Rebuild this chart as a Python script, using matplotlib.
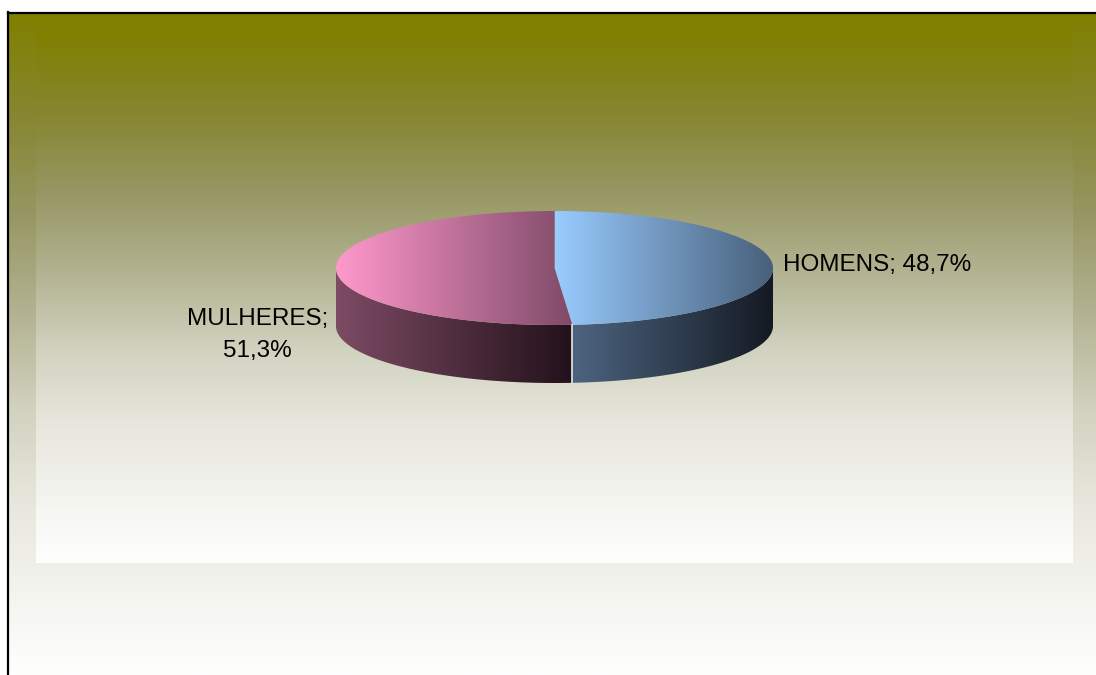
import matplotlib.pyplot as plt
import numpy as np
from matplotlib.colors import LinearSegmentedColormap
from matplotlib.patches import Polygon

labels = ["HOMENS", "MULHERES"]
values = [48.7, 51.3]

W, H = 1096, 675

# olive -> white backdrop, used for the frame and the plot area
bg_stops = [(0.0, (128, 128, 0)), (0.15, (134, 134, 48)), (0.3, (150, 150, 98)),
            (0.45, (178, 178, 145)), (0.6, (210, 210, 192)), (0.75, (232, 232, 223)),
            (0.9, (246, 246, 242)), (1.0, (254, 254, 253))]
bg_cmap = LinearSegmentedColormap.from_list(
    "bg", [(t, tuple(c / 255 for c in rgb)) for t, rgb in bg_stops])

# light -> dark shading for each slice (top face, side face)
top_colors = [("#99ccff", "#485f7a"), ("#ff99cc", "#7f4a68")]
side_colors = [("#4d6480", "#141a23"), ("#7d4b64", "#22111a")]

# pie geometry in pixels
cx, cy = 554.5, 268.0
ra, rb = 218.5, 57.0
depth = 58.0

fig = plt.figure(figsize=(W / 100, H / 100), dpi=100)
ax = fig.add_axes([0, 0, 1, 1])
ax.axis("off")


def vgrad(x0, x1, y0, y1, z):
    g = np.linspace(0, 1, 512).reshape(-1, 1)
    ax.imshow(g, cmap=bg_cmap, extent=(x0, x1, y1, y0), aspect="auto",
              interpolation="bilinear", zorder=z)


def face(xs, ys, c0, c1, z):
    poly = Polygon(np.column_stack([xs, ys]), closed=True, fc="none", ec="none", zorder=z)
    ax.add_patch(poly)
    cm = LinearSegmentedColormap.from_list("f", [c0, c1])
    g = np.linspace(0, 1, 256).reshape(1, -1)
    im = ax.imshow(g, cmap=cm, extent=(xs.min(), xs.max(), ys.max(), ys.min()),
                   aspect="auto", interpolation="bilinear", zorder=z)
    im.set_clip_path(poly)


def arc(t0, t1, n=200):
    t = np.radians(np.linspace(t0, t1, n))
    return cx + ra * np.sin(t), cy - rb * np.cos(t)


# backgrounds
vgrad(8, W, 13, H, 0)
vgrad(36, 1073, 31, 563, 1)
ax.plot([8, 8], [12, H], color="black", lw=1.6, zorder=2)
ax.plot([8, W], [13, 13], color="black", lw=1.6, zorder=2)

frac = np.array(values) / sum(values)
bounds = np.concatenate([[0], np.cumsum(frac) * 360])

# side walls (front half only)
for i in range(len(values)):
    s, e = max(bounds[i], 90), min(bounds[i + 1], 270)
    if e <= s:
        continue
    x, y = arc(s, e)
    xs = np.concatenate([x, x[::-1]])
    ys = np.concatenate([y, y[::-1] + depth])
    face(xs, ys, side_colors[i][0], side_colors[i][1], 3)

# top faces
for i in range(len(values)):
    x, y = arc(bounds[i], bounds[i + 1])
    xs = np.concatenate([[cx], x])
    ys = np.concatenate([[cy], y])
    face(xs, ys, top_colors[i][0], top_colors[i][1], 4)

# seam between the slices on the wall
sx, sy = arc(bounds[1], bounds[1], 1)
ax.plot([sx[0], sx[0]], [sy[0], sy[0] + depth], color="#e8e8e8", lw=1.2, zorder=5)

# data labels
txt = [f"{l}; {v:.1f}%".replace(".", ",") for l, v in zip(labels, values)]
font = dict(family="Liberation Sans", fontsize=17.5, color="black", zorder=6)
ax.text(cx + ra + 10, 265, txt[0], ha="left", va="center", **font)
ax.text(cx - ra - 8, 335, txt[1].replace("; ", ";\n"), ha="right", va="center",
        multialignment="center", linespacing=1.55, **font)

ax.set_xlim(0, W)
ax.set_ylim(H, 0)
fig.savefig("out.png", dpi=100, facecolor="white")
